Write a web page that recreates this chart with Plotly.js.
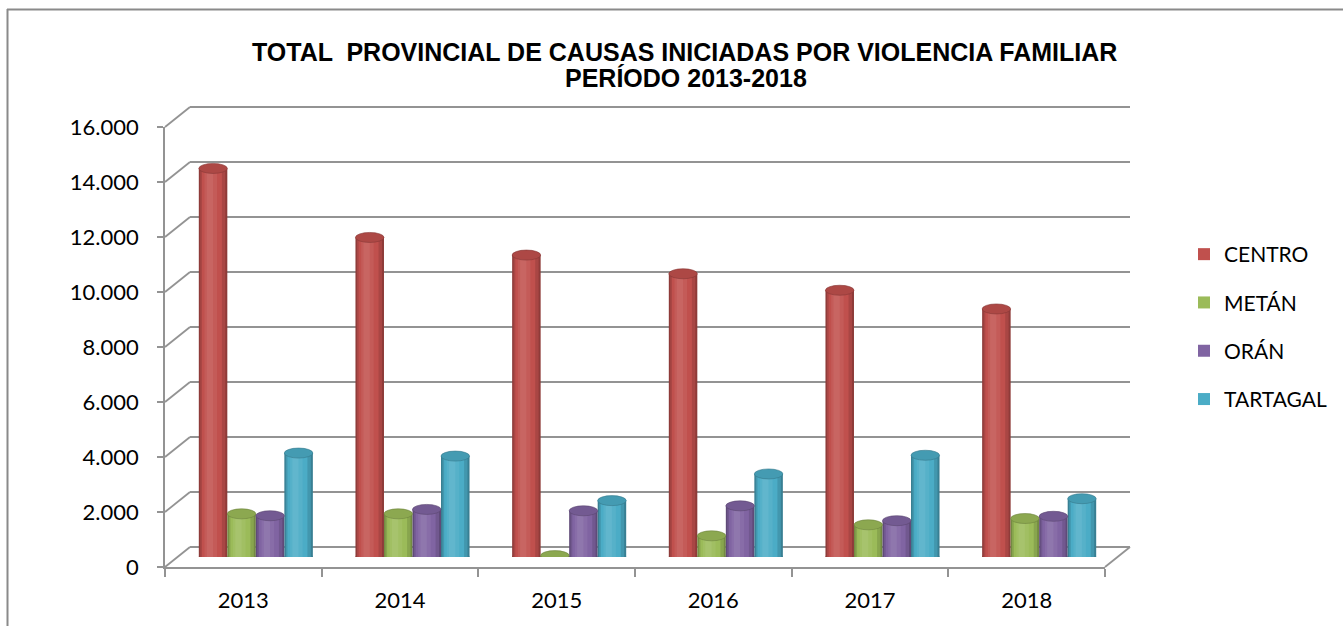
<!DOCTYPE html>
<html>
<head>
<meta charset="utf-8">
<script src="https://cdn.plot.ly/plotly-3.0.1.min.js"></script>
<style>html,body{margin:0;padding:0;background:#fff;}#chart{width:1343px;height:626px;}</style>
</head>
<body>
<div id="chart"></div>
<script>
// ---------- data ----------
const years = ['2013', '2014', '2015', '2016', '2017', '2018'];
const seriesNames = ['CENTRO', 'METÁN', 'ORÁN', 'TARTAGAL'];
const centro   = [14130, 11620, 10980, 10300, 9700, 9020];
const metan    = [1570, 1570, 50, 770, 1170, 1400];
const oran     = [1500, 1730, 1680, 1860, 1320, 1480];
const tartagal = [3780, 3670, 2050, 3020, 3700, 2120];
const yTickVals = [0, 2000, 4000, 6000, 8000, 10000, 12000, 14000, 16000];
const yTickText = ['0', '2.000', '4.000', '6.000', '8.000', '10.000', '12.000', '14.000', '16.000'];
const titleLines = ['TOTAL  PROVINCIAL DE CAUSAS INICIADAS POR VIOLENCIA FAMILIAR', 'PERÍODO 2013-2018'];
const colors = ['#C0504D', '#9BBB59', '#8064A2', '#4BACC6'];
const seriesValues = [centro, metan, oran, tartagal];

// ---------- geometry (pixels) ----------
const W = 1343, H = 626;
const px = x => x / W;
const py = y => 1 - y / H;
const YMAX = 16000;
const FX0 = 165, FX1 = 1105, FY0 = 567, FY1 = 127;   // front plane
const DX = 25, DY = -20;                             // depth offset
const BX0 = FX0 + DX, BX1 = FX1 + DX, BY0 = FY0 + DY, BY1 = FY1 + DY; // back wall
const MX0 = FX0 + DX / 2, MX1 = FX1 + DX / 2, MY0 = FY0 + DY / 2, MY1 = FY1 + DY / 2; // bar plane

function shade(hex, t) {
  const n = parseInt(hex.slice(1), 16);
  let r = (n >> 16) & 255, g = (n >> 8) & 255, b = n & 255;
  const f = c => t < 0 ? Math.round(c * (1 + t)) : Math.round(c + (255 - c) * t);
  return 'rgb(' + f(r) + ',' + f(g) + ',' + f(b) + ')';
}

const bw = 0.182;           // bar width in category units
const layers = [
  {w: 1.00, off: 0.00, t: -0.26},
  {w: 0.88, off: -0.01, t: -0.12},
  {w: 0.70, off: -0.04, t: 0.0, legend: true},
  {w: 0.44, off: -0.08, t: 0.06},
  {w: 0.22, off: -0.11, t: 0.12}
];

const traces = [];
const shapes = [];
seriesValues.forEach((vals, k) => {
  const c = (k - 1.5) * bw;
  layers.forEach(l => {
    const w = bw * l.w;
    traces.push({
      type: 'bar', x: years, y: vals, xaxis: 'x', yaxis: 'y',
      name: seriesNames[k], legendgroup: seriesNames[k],
      showlegend: !!l.legend,
      width: w, offset: c + l.off * bw - w / 2,
      marker: {color: l.legend ? colors[k] : shade(colors[k], l.t), line: {width: 0}},
      hoverinfo: l.legend ? 'x+y+name' : 'skip'
    });
  });
  vals.forEach((v, i) => {
    shapes.push({type: 'circle', xref: 'x', yref: 'y', ysizemode: 'pixel', yanchor: v,
      x0: i + c - bw / 2, x1: i + c + bw / 2, y0: -5, y1: 5,
      fillcolor: shade(colors[k], -0.1), line: {width: 0.6, color: shade(colors[k], -0.3)}, layer: 'above'});
    shapes.push({type: 'circle', xref: 'x', yref: 'y', ysizemode: 'pixel', yanchor: 0,
      x0: i + c - bw / 2, x1: i + c + bw / 2, y0: -5, y1: 5,
      fillcolor: shade(colors[k], -0.15), line: {width: 0}, layer: 'below'});
  });
});

// dummy trace to carry the front axes
traces.push({type: 'scatter', mode: 'markers', x: years, y: years.map(() => 0),
  xaxis: 'x2', yaxis: 'y2', marker: {opacity: 0}, showlegend: false, hoverinfo: 'skip'});

// back wall gridlines and depth diagonals
const gridColor = '#939393';
const backY = v => BY0 + (BY1 - BY0) * v / YMAX;
const frontY = v => FY0 + (FY1 - FY0) * v / YMAX;
yTickVals.forEach(v => {
  shapes.push({type: 'line', xref: 'paper', yref: 'paper', x0: px(BX0), x1: px(BX1),
    y0: py(backY(v)), y1: py(backY(v)), line: {color: gridColor, width: 1.8}, layer: 'below'});
  shapes.push({type: 'line', xref: 'paper', yref: 'paper', x0: px(FX0), x1: px(BX0),
    y0: py(frontY(v)), y1: py(backY(v)), line: {color: gridColor, width: 1.8}, layer: 'below'});
});
shapes.push({type: 'line', xref: 'paper', yref: 'paper', x0: px(FX1), x1: px(BX1),
  y0: py(FY0), y1: py(BY0), line: {color: gridColor, width: 1.8}, layer: 'below'});
// outer chart border (top and left)
shapes.push({type: 'line', xref: 'paper', yref: 'paper', x0: px(7), x1: px(W + 5),
  y0: py(9.5), y1: py(9.5), line: {color: '#8a8a8a', width: 2}});
shapes.push({type: 'line', xref: 'paper', yref: 'paper', x0: px(7.5), x1: px(7.5),
  y0: py(9), y1: py(H + 5), line: {color: '#8a8a8a', width: 2}});

const tickFont = {family: 'Lato, sans-serif', size: 22, color: '#000'};

const layout = {
  width: W, height: H,
  margin: {l: 0, r: 0, t: 0, b: 0},
  paper_bgcolor: '#fff', plot_bgcolor: 'rgba(0,0,0,0)',
  barmode: 'overlay',
  showlegend: true,
  xaxis: {domain: [px(MX0), px(MX1)], type: 'category', categoryarray: years, categoryorder: 'array',
    range: [-0.5, 5.5], visible: false, anchor: 'y', fixedrange: true},
  yaxis: {domain: [py(MY0), py(MY1)], range: [0, YMAX], visible: false, anchor: 'x', fixedrange: true},
  xaxis2: {domain: [px(FX0), px(FX1)], type: 'category', categoryarray: years, categoryorder: 'array',
    range: [-0.5, 5.5], anchor: 'y2', showline: true, linecolor: gridColor, linewidth: 1.8,
    ticks: 'outside', tickson: 'boundaries', ticklen: 8, tickcolor: gridColor, tickwidth: 1.8,
    showgrid: false, zeroline: false, tickfont: tickFont, ticklabelstandoff: 13},
  yaxis2: {domain: [py(FY0), py(FY1)], range: [0, YMAX], anchor: 'x2', showline: true,
    linecolor: gridColor, linewidth: 1.8, ticks: 'outside', ticklen: 6, tickcolor: gridColor, tickwidth: 1.8,
    tickvals: yTickVals, ticktext: yTickText, showgrid: false, zeroline: false,
    tickfont: tickFont, ticklabelstandoff: 14},
  legend: {x: px(1184), xanchor: 'left', y: py(234), yanchor: 'top',
    font: {family: 'Lato, sans-serif', size: 21, color: '#000'},
    traceorder: 'grouped', tracegroupgap: 18, bgcolor: 'rgba(0,0,0,0)', itemclick: false, itemdoubleclick: false},
  annotations: [
    {text: titleLines[0], xref: 'paper', yref: 'paper', x: px(684), y: py(52), xanchor: 'center', yanchor: 'middle',
      showarrow: false, font: {family: 'Liberation Sans, Arial, sans-serif', size: 25, weight: 700, color: '#000'}},
    {text: titleLines[1], xref: 'paper', yref: 'paper', x: px(686), y: py(78), xanchor: 'center', yanchor: 'middle',
      showarrow: false, font: {family: 'Liberation Sans, Arial, sans-serif', size: 25, weight: 700, color: '#000'}}
  ],
  shapes: shapes
};

Plotly.newPlot('chart', traces, layout, {displayModeBar: false, staticPlot: true});
</script>
</body>
</html>
